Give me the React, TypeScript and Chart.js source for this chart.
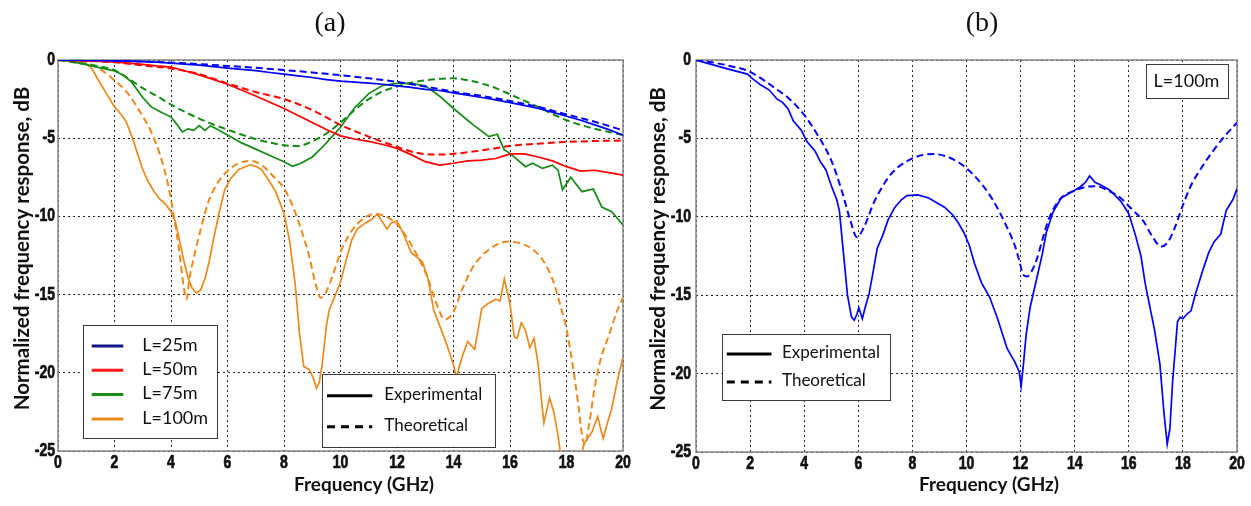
import React, { useEffect, useRef } from "react";
import { Chart, registerables } from "chart.js";

Chart.register(...registerables);

// ---- axes ----
const xTicks = [0, 2, 4, 6, 8, 10, 12, 14, 16, 18, 20];
const yTicks = [0, -5, -10, -15, -20, -25];

// ---- panel (a): fibre lengths 25/50/75/100 m ----
const l25ExpFreq = [0, 0.5, 1, 1.5, 2, 2.5, 3, 3.5, 4, 4.5, 5, 5.5, 6, 6.5, 7, 7.5, 8, 8.5, 9, 9.5, 10, 10.5, 11, 11.5, 12, 12.5, 13, 13.5, 14, 14.5, 15, 15.5, 16, 16.5, 17, 17.5, 18, 18.5, 19, 19.5, 20];
const l25ExpDb = [0, -0.01, -0.02, -0.03, -0.05, -0.07, -0.1, -0.13, -0.2, -0.26, -0.33, -0.42, -0.52, -0.6, -0.68, -0.8, -0.9, -1.02, -1.12, -1.25, -1.35, -1.42, -1.48, -1.55, -1.65, -1.75, -1.88, -1.95, -2.1, -2.25, -2.4, -2.55, -2.72, -2.9, -3.1, -3.33, -3.6, -3.85, -4.15, -4.45, -4.8];
const l25TheoFreq = [0, 1, 2, 3, 4, 5, 6, 7, 8, 9, 10, 11, 12, 13, 14, 15, 16, 17, 18, 19, 20];
const l25TheoDb = [0, -0.01, -0.04, -0.1, -0.17, -0.26, -0.38, -0.5, -0.64, -0.8, -0.97, -1.17, -1.4, -1.7, -2.03, -2.3, -2.62, -3.0, -3.48, -3.95, -4.5];

const l50ExpFreq = [0, 1, 2, 3, 3.5, 4, 4.5, 5, 6, 7, 8, 9, 9.5, 10, 10.5, 11, 11.5, 12, 12.5, 13, 13.5, 14, 14.5, 15, 15.5, 16, 16.5, 17, 17.5, 18, 18.5, 19, 19.5, 20];
const l50ExpDb = [0, -0.05, -0.12, -0.28, -0.38, -0.45, -0.7, -0.95, -1.55, -2.3, -3.1, -4.0, -4.45, -4.85, -5.05, -5.2, -5.4, -5.65, -6.05, -6.5, -6.72, -6.6, -6.45, -6.4, -6.3, -6.0, -6.0, -6.2, -6.45, -6.82, -7.1, -7.05, -7.2, -7.36];
const l50TheoFreq = [0, 1, 2, 3, 4, 5, 6, 7, 8, 9, 10, 11, 12, 12.5, 13, 13.5, 14, 15, 16, 17, 18, 19, 20];
const l50TheoDb = [0, -0.05, -0.15, -0.35, -0.55, -0.9, -1.5, -2.05, -2.5, -3.2, -4.15, -4.9, -5.55, -5.85, -6.02, -6.05, -6.0, -5.78, -5.5, -5.35, -5.24, -5.18, -5.15];

const l75ExpFreq = [0, 0.5, 1, 1.5, 2, 2.3, 2.6, 3, 3.3, 3.6, 4, 4.2, 4.4, 4.6, 4.8, 5, 5.2, 5.4, 5.6, 6, 6.5, 7, 7.5, 8, 8.3, 8.6, 9, 9.4, 9.7, 10, 10.5, 11, 11.5, 12, 12.5, 13, 13.5, 14, 14.7, 15.25, 15.55, 15.8, 16, 16.55, 16.8, 17.15, 17.5, 17.7, 17.86, 18.15, 18.55, 18.95, 19.25, 19.6, 20];
const l75ExpDb = [0, -0.1, -0.3, -0.5, -0.7, -0.95, -1.4, -2.4, -3.0, -3.3, -3.65, -4.1, -4.6, -4.4, -4.5, -4.2, -4.5, -4.2, -4.4, -4.8, -5.3, -5.7, -6.1, -6.5, -6.8, -6.6, -6.2, -5.5, -4.9, -4.3, -3.05, -2.15, -1.62, -1.5, -1.5, -1.65, -2.3, -3.1, -4.15, -4.9, -4.75, -5.75, -5.97, -6.82, -6.6, -6.93, -6.72, -7.04, -8.3, -7.5, -8.42, -8.25, -9.4, -9.7, -10.55];
const l75TheoFreq = [0, 1, 2, 2.5, 3, 3.5, 4, 5, 6, 7, 8, 8.5, 9, 9.5, 10, 10.5, 11, 11.5, 12, 12.5, 13, 13.5, 14, 14.5, 15, 15.5, 16, 16.5, 17, 17.5, 18, 18.5, 19, 19.5, 20];
const l75TheoDb = [0, -0.28, -0.65, -1.2, -1.8, -2.3, -2.85, -3.75, -4.45, -5.05, -5.45, -5.5, -5.2, -4.7, -4.0, -3.2, -2.5, -2.0, -1.7, -1.45, -1.3, -1.2, -1.17, -1.3, -1.5, -1.8, -2.2, -2.6, -3.0, -3.45, -3.85, -4.15, -4.4, -4.6, -4.8];

const l100ExpFreq = [0, 0.5, 1, 1.2, 1.4, 1.7, 2, 2.2, 2.4, 2.6, 2.8, 3, 3.2, 3.4, 3.6, 3.8, 4, 4.15, 4.3, 4.45, 4.6, 4.75, 4.9, 5.05, 5.2, 5.35, 5.5, 5.7, 5.9, 6.1, 6.4, 6.8, 7, 7.2, 7.5, 7.7, 8, 8.2, 8.4, 8.55, 8.7, 8.9, 9.05, 9.15, 9.25, 9.35, 9.5, 9.6, 9.8, 10, 10.2, 10.4, 10.6, 10.9, 11.1, 11.3, 11.5, 11.65, 11.8, 12, 12.2, 12.5, 12.9, 13.1, 13.3, 13.6, 13.8, 14, 14.1, 14.3, 14.5, 14.75, 15, 15.2, 15.5, 15.65, 15.8, 16, 16.15, 16.25, 16.4, 16.55, 16.7, 16.85, 17, 17.1, 17.2, 17.4, 17.55, 17.7, 17.85, 18.1, 18.4, 18.6, 18.75, 18.9, 19.1, 19.3, 19.45, 19.6, 19.8, 20];
const l100ExpDb = [0, -0.05, -0.25, -0.55, -1.2, -2.1, -3.0, -3.4, -3.9, -4.8, -5.9, -7.0, -7.8, -8.4, -8.9, -9.2, -9.7, -10.3, -11.5, -12.8, -13.9, -14.6, -14.9, -14.7, -14.0, -12.9, -11.5, -9.8, -8.3, -7.6, -7.0, -6.7, -6.8, -7.0, -7.8, -8.4, -9.8, -11.6, -14.4, -17.5, -19.6, -19.8, -20.4, -21.0, -20.6, -19.5, -17.0, -16.0, -15.1, -14.2, -12.8, -11.5, -10.8, -10.4, -10.2, -9.85, -10.4, -10.8, -10.4, -10.3, -11.0, -12.3, -12.9, -14.0, -16.0, -17.4, -18.4, -19.5, -20.3, -19.0, -18.0, -18.5, -15.9, -15.6, -15.3, -15.4, -14.0, -15.6, -17.7, -17.8, -16.8, -17.3, -18.4, -17.8, -19.5, -21.5, -23.2, -21.6, -22.5, -24.0, -26.0, -27.5, -27.0, -24.6, -24.2, -23.8, -22.8, -24.2, -23.2, -22.3, -20.5, -19.0];
const l100TheoFreq = [0, 0.5, 1, 1.5, 2, 2.5, 3, 3.3, 3.6, 3.9, 4.1, 4.3, 4.45, 4.55, 4.65, 4.8, 5, 5.3, 5.6, 6, 6.4, 6.8, 7.2, 7.6, 8, 8.3, 8.6, 8.9, 9.1, 9.3, 9.5, 9.7, 10, 10.3, 10.7, 11.2, 11.6, 12, 12.4, 12.8, 13.1, 13.4, 13.7, 14, 14.3, 14.7, 15.2, 15.6, 16, 16.4, 16.8, 17.2, 17.5, 17.8, 18, 18.2, 18.4, 18.55, 18.65, 18.8, 19, 19.2, 19.5, 19.8, 20];
const l100TheoDb = [0, -0.02, -0.15, -0.6, -1.3, -2.2, -3.6, -4.6, -6.0, -8.0, -10.0, -12.3, -14.5, -15.3, -14.0, -12.7, -11.2, -9.2, -8.0, -7.1, -6.6, -6.45, -6.7, -7.4, -8.2, -9.3, -10.8, -12.6, -14.2, -15.2, -14.8, -13.9, -12.3, -11.2, -10.3, -9.85, -10.0, -10.5, -11.5, -12.8, -14.0, -15.6, -16.6, -16.1, -14.7, -13.2, -12.2, -11.75, -11.6, -11.75, -12.1, -12.9, -14.0, -15.8, -17.2, -19.3, -21.8, -24.0, -24.6, -23.3, -20.9, -19.2, -17.6, -16.0, -15.2];

// ---- panel (b): L = 100 m ----
const bExpFreq = [0, 0.5, 1.2, 1.9, 2.1, 2.4, 2.7, 3, 3.2, 3.4, 3.6, 3.9, 4.1, 4.4, 4.6, 4.8, 5, 5.2, 5.3, 5.45, 5.6, 5.75, 5.85, 5.95, 6.02, 6.15, 6.25, 6.4, 6.55, 6.7, 6.9, 7.1, 7.35, 7.6, 7.8, 8.2, 8.6, 8.9, 9.2, 9.5, 9.7, 9.9, 10.1, 10.3, 10.55, 10.85, 11.15, 11.5, 11.8, 11.95, 12.02, 12.1, 12.2, 12.35, 12.6, 12.8, 12.95, 13.2, 13.5, 13.9, 14.2, 14.4, 14.55, 14.75, 15, 15.3, 15.7, 16, 16.25, 16.45, 16.6, 16.75, 16.95, 17.15, 17.3, 17.42, 17.52, 17.62, 17.72, 17.8, 17.9, 18, 18.15, 18.3, 18.45, 18.7, 18.95, 19.15, 19.4, 19.6, 19.85, 20];
const bExpDb = [0, -0.25, -0.58, -0.9, -1.2, -1.6, -1.9, -2.5, -2.7, -3.1, -3.9, -4.5, -5.2, -5.8, -6.5, -7.0, -8.0, -8.9, -9.6, -12.3, -15.0, -16.4, -16.6, -16.2, -15.8, -16.5, -15.8, -14.9, -13.5, -12.0, -11.2, -10.2, -9.4, -8.9, -8.65, -8.6, -8.8, -9.1, -9.4, -9.9, -10.4, -11.0, -11.8, -13.0, -14.2, -15.1, -16.5, -18.4, -19.3, -19.9, -20.8, -19.5, -17.6, -15.8, -13.9, -12.4, -11.0, -9.7, -8.8, -8.4, -8.1, -7.8, -7.4, -7.8, -8.0, -8.3, -9.0, -9.8, -11.2, -12.5, -14.2, -15.5, -17.2, -19.4, -22.5, -24.5, -23.5, -20.5, -18.4, -16.7, -16.4, -16.5, -16.2, -16.0, -15.0, -13.6, -12.3, -11.6, -11.1, -9.6, -8.9, -8.2];
const bTheoFreq = [0, 0.6, 1.2, 1.9, 2.6, 3, 3.4, 4, 4.5, 5, 5.4, 5.7, 5.95, 6.2, 6.6, 7.2, 7.8, 8.4, 8.8, 9.4, 10, 10.6, 11, 11.45, 11.8, 11.95, 12.1, 12.25, 12.4, 12.6, 12.8, 13.05, 13.5, 13.9, 14.4, 14.8, 15.2, 15.7, 16.1, 16.55, 16.85, 17.2, 17.45, 17.7, 18, 18.3, 18.75, 19.2, 19.6, 20];
const bTheoDb = [0, -0.15, -0.36, -0.68, -1.4, -1.9, -2.4, -3.5, -4.8, -6.4, -8.4, -10.2, -11.3, -10.7, -9.0, -7.3, -6.45, -6.05, -6.0, -6.25, -6.9, -8.0, -9.0, -10.5, -11.9, -12.8, -13.7, -13.8, -13.5, -12.7, -11.5, -10.1, -8.8, -8.4, -8.1, -8.05, -8.3, -8.8, -9.5, -10.3, -11.2, -11.9, -11.6, -10.7, -9.25, -8.0, -6.7, -5.6, -4.75, -4.0];

// ---- legend texts ----
const lengthLabels = ["L=25m", "L=50m", "L=75m", "L=100m"];
const lengthLegendColors = ["#16168c", "#ff1a1a", "#1a8c1a", "#ea8a1e"];
const kindLabels = ["Experimental", "Theoretical"];
const panelTitles = ["(a)", "(b)"];
const xTitle = "Frequency (GHz)";
const yTitle = "Normalized frequency response, dB";
const boxLabel = "L=100m";

const BLUE = "#0000ff";
const RED = "#ff0000";
const GREEN = "#148a14";
const ORANGE = "#ea8a1e";

const DASH = [7, 4];

type Line = { freq: number[]; db: number[]; color: string; dashed: boolean };

const panelALines: Line[] = [
  { freq: l25ExpFreq, db: l25ExpDb, color: BLUE, dashed: false },
  { freq: l25TheoFreq, db: l25TheoDb, color: BLUE, dashed: true },
  { freq: l50ExpFreq, db: l50ExpDb, color: RED, dashed: false },
  { freq: l50TheoFreq, db: l50TheoDb, color: RED, dashed: true },
  { freq: l75ExpFreq, db: l75ExpDb, color: GREEN, dashed: false },
  { freq: l75TheoFreq, db: l75TheoDb, color: GREEN, dashed: true },
  { freq: l100ExpFreq, db: l100ExpDb, color: ORANGE, dashed: false },
  { freq: l100TheoFreq, db: l100TheoDb, color: ORANGE, dashed: true },
];

const panelBLines: Line[] = [
  { freq: bExpFreq, db: bExpDb, color: BLUE, dashed: false },
  { freq: bTheoFreq, db: bTheoDb, color: BLUE, dashed: true },
];

// tick numbers: heavy sans squeezed horizontally to a narrow face
const TICK_FONT = 'bold 18px "Liberation Sans", Arial, sans-serif';
const TICK_SQUEEZE = 0.78;
const LABEL_FAMILY = 'Lato, "Open Sans", sans-serif';

type Geo = {
  width: number;
  height: number;
  axisW: number; // width reserved for the y axis
  axisH: number; // height reserved for the x axis
  padTop: number;
  padRight: number;
  titleX: number;
  yTitleX: number;
  xTitleX: number;
  yTickGap: number;
};

type Area = { left: number; top: number; right: number; bottom: number };

type Decor = {
  title: string;
  draw: (ctx: CanvasRenderingContext2D, area: Area) => void;
};

function drawBox(ctx: CanvasRenderingContext2D, x1: number, y1: number, x2: number, y2: number) {
  ctx.save();
  ctx.fillStyle = "#ffffff";
  ctx.fillRect(x1, y1, x2 - x1, y2 - y1);
  ctx.strokeStyle = "#3a3a3a";
  ctx.lineWidth = 1;
  ctx.setLineDash([]);
  ctx.strokeRect(Math.round(x1) + 0.5, Math.round(y1) + 0.5, Math.round(x2 - x1), Math.round(y2 - y1));
  ctx.restore();
}

function drawSample(ctx: CanvasRenderingContext2D, x1: number, x2: number, y: number, color: string, dash: number[]) {
  ctx.save();
  ctx.strokeStyle = color;
  ctx.lineWidth = 3;
  ctx.setLineDash(dash);
  ctx.beginPath();
  ctx.moveTo(x1, y);
  ctx.lineTo(x2, y);
  ctx.stroke();
  ctx.restore();
}

function drawLabel(ctx: CanvasRenderingContext2D, text: string, x: number, y: number, size: number, align: CanvasTextAlign = "left") {
  ctx.save();
  ctx.fillStyle = "#111";
  ctx.font = `${size}px ${LABEL_FAMILY}`;
  ctx.textAlign = align;
  ctx.textBaseline = "middle";
  ctx.fillText(text, x, y);
  ctx.restore();
}

function drawTickText(ctx: CanvasRenderingContext2D, text: string, x: number, y: number, align: CanvasTextAlign) {
  ctx.save();
  ctx.fillStyle = "#111";
  ctx.strokeStyle = "#111";
  ctx.lineWidth = 0.7;
  ctx.font = TICK_FONT;
  ctx.textAlign = align;
  ctx.textBaseline = "middle";
  ctx.translate(x, y);
  ctx.scale(TICK_SQUEEZE, 1);
  ctx.fillText(text, 0, 0);
  ctx.strokeText(text, 0, 0);
  ctx.restore();
}

// Legend block for panel (a): cable lengths at lower left, line styles at lower middle
const decorA: Decor = {
  title: panelTitles[0],
  draw(ctx, a) {
    const L = a.left;
    const T = a.top;
    drawBox(ctx, L + 24.5, T + 264.5, L + 158.8, T + 377);
    lengthLabels.forEach((lab, i) => {
      const y = T + 286 + i * 24.3;
      drawSample(ctx, L + 33.7, L + 65.3, y, lengthLegendColors[i], []);
      drawLabel(ctx, lab, L + 84.3, y - 1, 18);
    });
    drawBox(ctx, L + 263.7, T + 314, L + 436.3, T + 386.7);
    kindLabels.forEach((lab, i) => {
      const y = T + 335.7 + i * 31;
      drawSample(ctx, L + 269, L + 314.3, y, "#000", i === 0 ? [] : [8, 6]);
      drawLabel(ctx, lab, L + 326.3, y - 1, 17);
    });
  },
};

// Legend block for panel (b): cable length tag at top right, line styles at lower left
const decorB: Decor = {
  title: panelTitles[1],
  draw(ctx, a) {
    const L = a.left;
    const T = a.top;
    drawBox(ctx, L + 449.8, T + 4.4, L + 531.6, T + 38.3);
    drawLabel(ctx, boxLabel, L + 490.5, T + 21.5, 18, "center");
    drawBox(ctx, L + 25.7, T + 274, L + 193.7, T + 340);
    kindLabels.forEach((lab, i) => {
      const y = T + 294 + i * 28;
      drawSample(ctx, L + 30.8, L + 75.5, y, "#000", i === 0 ? [] : [8, 6]);
      drawLabel(ctx, lab, L + 86, y - 1, 17);
    });
  },
};

function buildChart(canvas: HTMLCanvasElement, lines: Line[], geo: Geo, decor: Decor) {
  const decoPlugin = {
    id: "panelDecor",
    beforeDatasetsDraw(chart: any) {
      const { ctx, chartArea: a } = chart;
      ctx.save();
      ctx.strokeStyle = "#858585";
      ctx.lineWidth = 1.5;
      ctx.setLineDash([]);
      ctx.strokeRect(a.left, a.top, a.right - a.left, a.bottom - a.top);
      ctx.restore();
    },
    afterDraw(chart: any) {
      const { ctx, chartArea: a, scales } = chart;
      decor.draw(ctx, a);

      // tick numbers
      xTicks.forEach((v) => drawTickText(ctx, String(v), scales.x.getPixelForValue(v), a.bottom + 12.5, "center"));
      yTicks.forEach((v) => drawTickText(ctx, String(v), a.left - geo.yTickGap, scales.y.getPixelForValue(v), "right"));

      ctx.save();
      ctx.fillStyle = "#111";
      ctx.font = '28px "Liberation Serif", "DejaVu Serif", serif';
      ctx.textAlign = "center";
      ctx.textBaseline = "middle";
      ctx.fillText(decor.title, geo.titleX, 24);
      ctx.font = `bold 19px ${LABEL_FAMILY}`;
      ctx.textBaseline = "alphabetic";
      ctx.fillText(xTitle, geo.xTitleX, 491);
      ctx.font = `bold 20.5px ${LABEL_FAMILY}`;
      ctx.translate(geo.yTitleX, (a.top + a.bottom) / 2 - 7);
      ctx.rotate(-Math.PI / 2);
      ctx.fillText(yTitle, 0, 0);
      ctx.restore();
    },
  };

  return new Chart(canvas, {
    type: "line",
    data: {
      datasets: lines.map((ln) => ({
        data: ln.freq.map((f, i) => ({ x: f, y: ln.db[i] })),
        borderColor: ln.color,
        backgroundColor: ln.color,
        borderWidth: ln.dashed ? 2 : 1.7,
        borderDash: ln.dashed ? DASH : [],
        pointRadius: 0,
        fill: false,
        tension: ln.dashed ? 0.4 : 0,
        cubicInterpolationMode: ln.dashed ? ("monotone" as const) : ("default" as const),
      })),
    },
    options: {
      animation: false,
      responsive: false,
      events: [],
      layout: { padding: { left: 0, top: geo.padTop, right: geo.padRight, bottom: 0 } },
      plugins: { legend: { display: false }, tooltip: { enabled: false }, title: { display: false } },
      scales: {
        x: {
          type: "linear",
          min: 0,
          max: 20,
          afterBuildTicks: (s: any) => {
            s.ticks = xTicks.map((v) => ({ value: v }));
          },
          afterFit: (s: any) => {
            s.height = geo.axisH;
            s.paddingLeft = 0;
            s.paddingRight = 0;
          },
          grid: { color: "#222", lineWidth: 1, drawTicks: false },
          border: { display: false, dash: [2, 3] },
          ticks: { display: false },
        },
        y: {
          type: "linear",
          min: -25,
          max: 0,
          afterBuildTicks: (s: any) => {
            s.ticks = yTicks.map((v) => ({ value: v }));
          },
          afterFit: (s: any) => {
            s.width = geo.axisW;
            s.paddingTop = 0;
            s.paddingBottom = 0;
          },
          grid: { color: "#222", lineWidth: 1, drawTicks: false },
          border: { display: false, dash: [2, 3] },
          ticks: { display: false },
        },
      },
    },
    plugins: [decoPlugin],
  } as any);
}

function Panel({ lines, geo, decor, left }: { lines: Line[]; geo: Geo; decor: Decor; left: number }) {
  const ref = useRef<HTMLCanvasElement | null>(null);
  useEffect(() => {
    if (!ref.current) return;
    const chart = buildChart(ref.current, lines, geo, decor);
    return () => chart.destroy();
  }, []);
  return (
    <canvas
      ref={ref}
      width={geo.width}
      height={geo.height}
      style={{ position: "absolute", left, top: 0, width: geo.width, height: geo.height }}
    />
  );
}

const geoA: Geo = { width: 640, height: 506, axisW: 58, axisH: 55, padTop: 60, padRight: 17, titleX: 330, yTitleX: 29, xTitleX: 364, yTickGap: 3 };
const geoB: Geo = { width: 621, height: 506, axisW: 66, axisH: 54, padTop: 60, padRight: 14, titleX: 352, yTitleX: 35, xTitleX: 359, yTickGap: 5 };

export default function App() {
  return (
    <div style={{ position: "absolute", left: 0, top: 0, width: 1251, height: 506, background: "#fff", overflow: "hidden" }}>
      <Panel lines={panelALines} geo={geoA} decor={decorA} left={0} />
      <Panel lines={panelBLines} geo={geoB} decor={decorB} left={630} />
    </div>
  );
}
